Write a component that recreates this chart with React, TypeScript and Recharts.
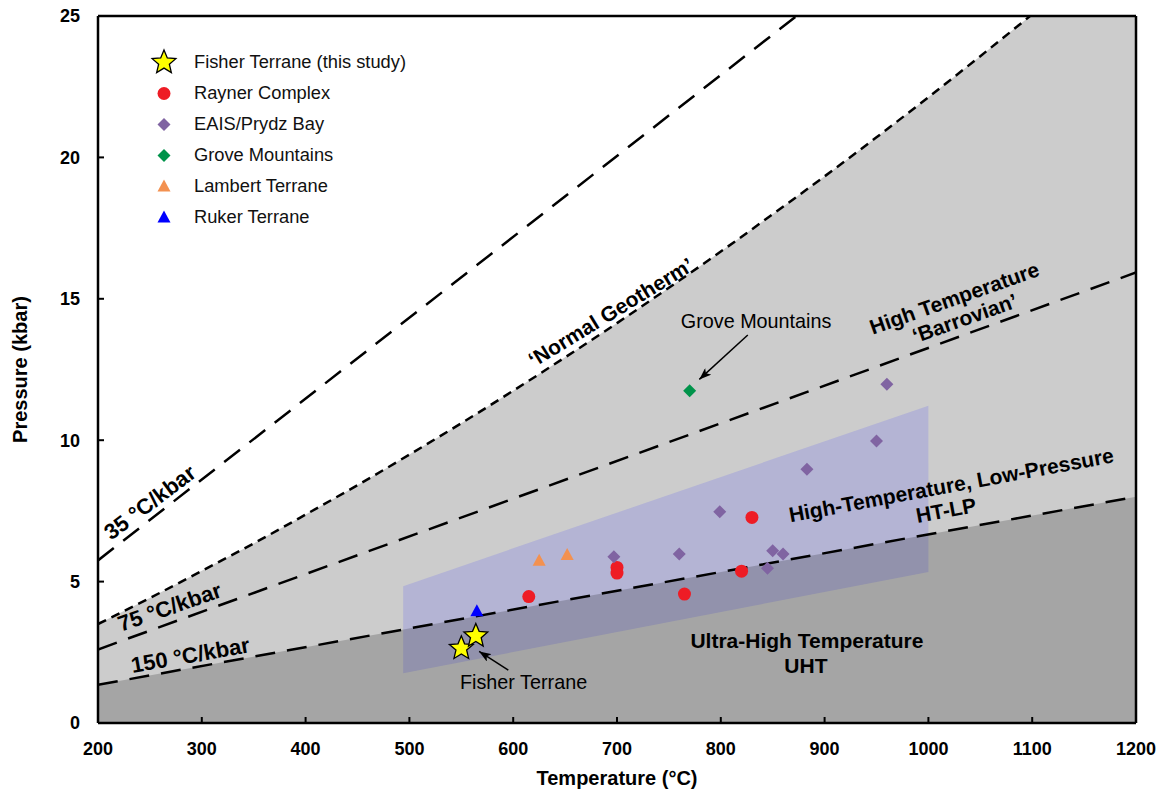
import React from "react";
import {
    ComposedChart,
    Area,
    Line,
    Scatter,
    XAxis,
    YAxis,
    ReferenceLine,
} from "recharts";

const FONT = '"Liberation Sans", Arial, Helvetica, sans-serif';

// axes
const X_TICKS = [200, 300, 400, 500, 600, 700, 800, 900, 1000, 1100, 1200];
const Y_TICKS = [0, 5, 10, 15, 20, 25];

// 'Normal Geotherm' (T °C, P kbar), runs off the top of the frame
const GEOTHERM_T = [200, 250, 300, 350, 400, 450, 500, 550, 600, 650, 700, 750, 800, 850, 900, 950, 1000, 1050, 1100, 1150, 1200];
const GEOTHERM_P = [3.5, 4.42, 5.38, 6.35, 7.37, 8.41, 9.49, 10.6, 11.75, 12.93, 14.14, 15.39, 16.67, 17.99, 19.33, 20.71, 22.13, 23.58, 25.06, 26.57, 28.12];

// thermal gradients
const GRAD35_T = [200, 873];
const GRAD35_P = [5.75, 25];
const GRAD75_T = [200, 1200];
const GRAD75_P = [2.6, 15.93];
const GRAD150_T = [200, 1200];
const GRAD150_P = [1.35, 8.0];

// HT-LP field (parallelogram)
const HTLP_T = [494, 1000];
const HTLP_LOW = [1.76, 5.34];
const HTLP_HIGH = [4.84, 11.22];

// samples
const FISHER_T = [550, 564];
const FISHER_P = [2.64, 3.08];
const RAYNER_T = [615, 700, 700, 765, 820, 830];
const RAYNER_P = [4.47, 5.5, 5.3, 4.56, 5.37, 7.27];
const EAIS_T = [697, 760, 799, 845, 850, 860, 883, 950, 960];
const EAIS_P = [5.88, 5.98, 7.47, 5.47, 6.09, 5.98, 8.97, 9.97, 11.98];
const GROVE_T = [770];
const GROVE_P = [11.75];
const LAMBERT_T = [625, 652];
const LAMBERT_P = [5.74, 5.94];
const RUKER_T = [565];
const RUKER_P = [3.95];

// annotations: text anchored at (t, p)
const ANNOTATIONS = [
    { text: "\u2018Normal Geotherm\u2019", t: 694, p: 14.53, angle: -31.5, kind: "bold" },
    { text: "High Temperature", t: 1025, p: 15.03, angle: -19.5, kind: "bold" },
    { text: "\u2018Barrovian\u2019", t: 1035, p: 14.32, angle: -19.5, kind: "bold" },
    { text: "High-Temperature, Low-Pressure", t: 1022, p: 8.42, angle: -10.5, kind: "bold" },
    { text: "HT-LP", t: 1017, p: 7.53, angle: -10.5, kind: "bold" },
    { text: "Ultra-High Temperature", t: 883, p: 2.93, angle: 0, kind: "bold" },
    { text: "UHT", t: 882, p: 2.02, angle: 0, kind: "bold" },
    { text: "35 \u00b0C/kbar", t: 250, p: 7.8, angle: -37, kind: "grad" },
    { text: "75 \u00b0C/kbar", t: 269, p: 4.1, angle: -19, kind: "grad" },
    { text: "150 \u00b0C/kbar", t: 289, p: 2.4, angle: -10, kind: "grad" },
    { text: "Grove Mountains", t: 834, p: 14.21, angle: 0, kind: "note" },
    { text: "Fisher Terrane", t: 610, p: 1.45, angle: 0, kind: "note" },
];

// arrows: [tail, tip]
const GROVE_ARROW = [[826, 13.72], [779.3, 12.15]];
const FISHER_ARROW = [[595.3, 1.87], [567.2, 2.53]];

const pts = (ts: number[], ps: number[]) => ts.map((t, i) => ({ t, p: ps[i] }));

const geothermData = pts(GEOTHERM_T, GEOTHERM_P);
const grad35Data = pts(GRAD35_T, GRAD35_P);
const grad75Data = pts(GRAD75_T, GRAD75_P);
const grad150Data = pts(GRAD150_T, GRAD150_P);
const htlpData = HTLP_T.map((t, i) => ({ t, r: [HTLP_LOW[i], HTLP_HIGH[i]] }));

const COLORS = {
    fisher: "#ffff00",
    rayner: "#ee1c25",
    eais: "#8064a2",
    grove: "#00934a",
    lambert: "#f39150",
    ruker: "#0000ff",
};

const TEXT_STYLE: Record<string, any> = {
    bold: { fontSize: 21, fontWeight: 700 },
    grad: { fontSize: 22, fontWeight: 700 },
    note: { fontSize: 19.8, fontWeight: 400 },
};

function starPoints(cx: number, cy: number, r: number) {
    const out: string[] = [];
    for (let i = 0; i < 10; i++) {
        const rad = i % 2 === 0 ? r : r * 0.45;
        const a = -Math.PI / 2 + (i * Math.PI) / 5;
        out.push(`${cx + rad * Math.cos(a)},${cy + rad * Math.sin(a)}`);
    }
    return out.join(" ");
}

function Mark({ kind, cx, cy }: { kind: string; cx: number; cy: number }) {
    if (kind === "star") {
        return <polygon points={starPoints(cx, cy, 12.5)} fill={COLORS.fisher} stroke="#000" strokeWidth={1.3} />;
    }
    if (kind === "circle") {
        return <circle cx={cx} cy={cy} r={6.5} fill={COLORS.rayner} />;
    }
    if (kind === "diamond" || kind === "diamondGreen") {
        const s = 6.5;
        return (
            <polygon
                points={`${cx},${cy - s} ${cx + s},${cy} ${cx},${cy + s} ${cx - s},${cy}`}
                fill={kind === "diamond" ? COLORS.eais : COLORS.grove}
            />
        );
    }
    // triangles
    return (
        <polygon
            points={`${cx},${cy - 7} ${cx + 6.5},${cy + 5} ${cx - 6.5},${cy + 5}`}
            fill={kind === "triOrange" ? COLORS.lambert : COLORS.ruker}
        />
    );
}

const shapeOf = (kind: string) => (props: any) => <Mark kind={kind} cx={props.cx} cy={props.cy} />;

function AnnotationShape(props: any) {
    const { cx, cy, payload } = props;
    const st = TEXT_STYLE[payload.kind];
    return (
        <text
            x={cx}
            y={cy}
            transform={payload.angle ? `rotate(${payload.angle} ${cx} ${cy})` : undefined}
            textAnchor="middle"
            dominantBaseline="central"
            fontFamily={FONT}
            fontSize={st.fontSize}
            fontWeight={st.fontWeight}
            fill="#000"
        >
            {payload.text}
        </text>
    );
}

const LEGEND = [
    { label: "Fisher Terrane (this study)", kind: "star" },
    { label: "Rayner Complex", kind: "circle" },
    { label: "EAIS/Prydz Bay", kind: "diamond" },
    { label: "Grove Mountains", kind: "diamondGreen" },
    { label: "Lambert Terrane", kind: "triOrange" },
    { label: "Ruker Terrane", kind: "triBlue" },
];

function ChartLegend() {
    return (
        <div style={{ position: "absolute", left: 148, top: 46.5, fontFamily: FONT }}>
            {LEGEND.map((item) => (
                <div key={item.label} style={{ display: "flex", alignItems: "center", height: 31 }}>
                    <svg width={32} height={31} style={{ flexShrink: 0 }}>
                        <Mark kind={item.kind} cx={16} cy={15.5} />
                    </svg>
                    <span style={{ marginLeft: 14, fontSize: 18.3, color: "#111", whiteSpace: "nowrap" }}>
                        {item.label}
                    </span>
                </div>
            ))}
        </div>
    );
}

const axisTick = { fill: "#000", fontSize: 18, fontWeight: 700, fontFamily: FONT };

export default function App() {
    return (
        <div style={{ position: "absolute", left: 0, top: 0, width: 1163, height: 796, background: "#fff" }}>
            <svg width={0} height={0} style={{ position: "absolute" }}>
                <defs>
                    <marker
                        id="arrowHead"
                        viewBox="0 0 12 9"
                        refX={12}
                        refY={4.5}
                        markerWidth={12}
                        markerHeight={9}
                        markerUnits="userSpaceOnUse"
                        orient="auto"
                    >
                        <path d="M0,0 L12,4.5 L0,9 L3,4.5 z" fill="#000" />
                    </marker>
                </defs>
            </svg>
            <ComposedChart width={1163} height={796} margin={{ top: 16, right: 27, bottom: 0, left: 0 }}>
                <XAxis
                    type="number"
                    dataKey="t"
                    domain={[200, 1200]}
                    ticks={X_TICKS}
                    interval={0}
                    allowDataOverflow
                    height={73}
                    tickSize={-6}
                    tickMargin={25}
                    axisLine={{ stroke: "#000", strokeWidth: 2.5 }}
                    tickLine={{ stroke: "#000", strokeWidth: 2 }}
                    tick={axisTick}
                    label={{
                        content: ({ viewBox }: any) => (
                            <text
                                x={viewBox.x + viewBox.width / 2}
                                y={viewBox.y + 62}
                                textAnchor="middle"
                                fontFamily={FONT}
                                fontSize={20}
                                fontWeight={700}
                                fill="#000"
                            >
                                Temperature (°C)
                            </text>
                        ),
                    }}
                />
                <YAxis
                    type="number"
                    dataKey="p"
                    domain={[0, 25]}
                    ticks={Y_TICKS}
                    interval={0}
                    allowDataOverflow
                    width={98}
                    tickSize={-6}
                    tickMargin={24}
                    axisLine={{ stroke: "#000", strokeWidth: 2.5 }}
                    tickLine={{ stroke: "#000", strokeWidth: 2 }}
                    tick={axisTick}
                    label={{
                        content: ({ viewBox }: any) => {
                            const x = viewBox.x + 20;
                            const y = viewBox.y + viewBox.height / 2;
                            return (
                                <text
                                    x={x}
                                    y={y}
                                    transform={`rotate(-90 ${x} ${y})`}
                                    textAnchor="middle"
                                    dominantBaseline="central"
                                    fontFamily={FONT}
                                    fontSize={20}
                                    fontWeight={700}
                                    fill="#000"
                                >
                                    Pressure (kbar)
                                </text>
                            );
                        },
                    }}
                />

                {/* fields */}
                <Area data={geothermData} dataKey="p" type="monotone" baseValue={0} fill="#cccccc" fillOpacity={1} stroke="none" isAnimationActive={false} />
                <Area data={htlpData} dataKey="r" type="linear" fill="#b4b4d4" fillOpacity={1} stroke="none" isAnimationActive={false} />
                <Area data={grad150Data} dataKey="p" type="linear" baseValue={0} fill="#000" fillOpacity={0.19} stroke="none" isAnimationActive={false} />

                {/* gradients */}
                <Line data={geothermData} dataKey="p" type="monotone" stroke="#000" strokeWidth={2.5} strokeDasharray="9 6" dot={false} activeDot={false} isAnimationActive={false} />
                <Line data={grad35Data} dataKey="p" type="linear" stroke="#000" strokeWidth={2.5} strokeDasharray="20 12" dot={false} activeDot={false} isAnimationActive={false} />
                <Line data={grad75Data} dataKey="p" type="linear" stroke="#000" strokeWidth={2.5} strokeDasharray="20 12" dot={false} activeDot={false} isAnimationActive={false} />
                <Line data={grad150Data} dataKey="p" type="linear" stroke="#000" strokeWidth={2.5} strokeDasharray="20 12" dot={false} activeDot={false} isAnimationActive={false} />

                {/* frame */}
                <ReferenceLine y={25} stroke="#000" strokeWidth={2.5} />
                <ReferenceLine x={1200} stroke="#000" strokeWidth={2.5} />

                {/* arrows */}
                <ReferenceLine
                    segment={[{ x: GROVE_ARROW[0][0], y: GROVE_ARROW[0][1] }, { x: GROVE_ARROW[1][0], y: GROVE_ARROW[1][1] }]}
                    stroke="#000"
                    strokeWidth={1.5}
                    markerEnd="url(#arrowHead)"
                    ifOverflow="visible"
                />
                <ReferenceLine
                    segment={[{ x: FISHER_ARROW[0][0], y: FISHER_ARROW[0][1] }, { x: FISHER_ARROW[1][0], y: FISHER_ARROW[1][1] }]}
                    stroke="#000"
                    strokeWidth={1.5}
                    markerEnd="url(#arrowHead)"
                    ifOverflow="visible"
                />

                {/* samples */}
                <Scatter data={pts(RAYNER_T, RAYNER_P)} dataKey="p" shape={shapeOf("circle")} isAnimationActive={false} />
                <Scatter data={pts(EAIS_T, EAIS_P)} dataKey="p" shape={shapeOf("diamond")} isAnimationActive={false} />
                <Scatter data={pts(GROVE_T, GROVE_P)} dataKey="p" shape={shapeOf("diamondGreen")} isAnimationActive={false} />
                <Scatter data={pts(LAMBERT_T, LAMBERT_P)} dataKey="p" shape={shapeOf("triOrange")} isAnimationActive={false} />
                <Scatter data={pts(RUKER_T, RUKER_P)} dataKey="p" shape={shapeOf("triBlue")} isAnimationActive={false} />
                <Scatter data={pts(FISHER_T, FISHER_P)} dataKey="p" shape={shapeOf("star")} isAnimationActive={false} />

                {/* text annotations */}
                <Scatter data={ANNOTATIONS} dataKey="p" shape={AnnotationShape} isAnimationActive={false} />
            </ComposedChart>
            <ChartLegend />
        </div>
    );
}
